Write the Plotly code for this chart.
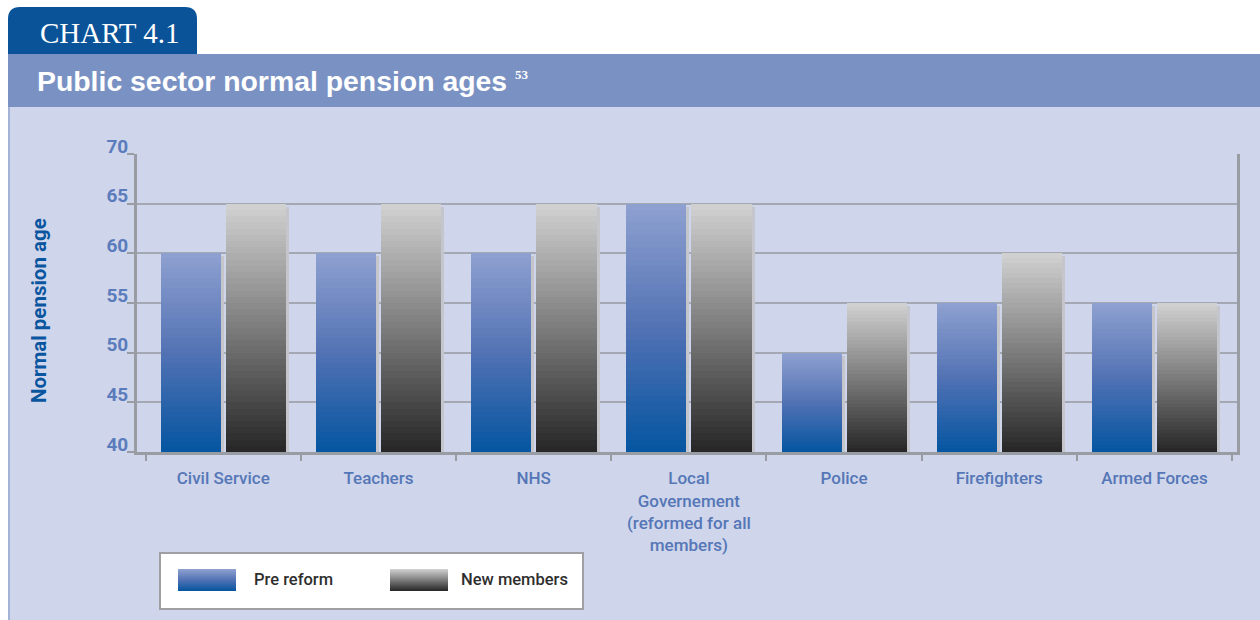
import plotly.graph_objects as go

# ---------------- data ----------------
categories = ["Civil Service", "Teachers", "NHS",
              "Local<br>Governement<br>(reformed for all<br>members)",
              "Police", "Firefighters", "Armed Forces"]
pre_reform = [60, 60, 60, 65, 50, 55, 55]
new_members = [65, 65, 65, 65, 55, 60, 55]
y_ticks = [40, 45, 50, 55, 60, 65, 70]
series_names = ["Pre reform", "New members"]

# ---------------- style ----------------
W, H = 1260, 620
L, R, T, B = 137, 1237, 154, 452    # plot area in pixels
BASE = 40
NARROW = "Roboto, Liberation Sans, Arial, sans-serif"
SANS = "Liberation Sans, Arial, Helvetica, sans-serif"
SERIF = "Liberation Serif, Times New Roman, DejaVu Serif, serif"

pre_stops = [(0.0, (4, 85, 161)), (0.5, (82, 114, 180)), (1.0, (143, 161, 208))]
new_stops = [(0.0, (38, 38, 38)), (0.5, (124, 124, 124)), (1.0, (210, 210, 210))]


def interp(stops, t):
    for (t0, c0), (t1, c1) in zip(stops[:-1], stops[1:]):
        if t <= t1:
            f = (t - t0) / (t1 - t0) if t1 > t0 else 0
            c = [round(a + (b - a) * f) for a, b in zip(c0, c1)]
            return "rgb(%d,%d,%d)" % tuple(c)
    return "rgb(%d,%d,%d)" % stops[-1][1]


def px(x):
    return (x - L) / (R - L)


def py(y):
    return (B - y) / (B - T)


fig = go.Figure()

N = 40
SH = 0.019   # shadow strip width (category units)
series = [
    (pre_reform, -0.402, 0.386, pre_stops),
    (new_members, 0.016, 0.39, new_stops),
]

# shadows
for vals, off, wd, _ in series:
    fig.add_trace(go.Bar(
        x=categories, y=[v - BASE - 0.3 for v in vals], base=[BASE] * len(vals),
        offset=off + wd, width=SH,
        marker=dict(color="#c4c6cb", line=dict(width=0)),
        showlegend=False, hoverinfo="skip"))

# gradient bars built from slices
for vals, off, wd, stops in series:
    for k in range(N):
        t = (k + 0.5) / N
        fig.add_trace(go.Bar(
            x=categories,
            y=[(v - BASE) / N for v in vals],
            base=[BASE + (v - BASE) * k / N for v in vals],
            offset=off, width=wd,
            marker=dict(color=interp(stops, t), line=dict(width=0)),
            showlegend=False, hoverinfo="skip"))

shapes = []
# panel background
shapes.append(dict(type="rect", xref="paper", yref="paper", layer="below",
                   x0=px(9), x1=px(W + 2), y0=py(107), y1=py(H + 2),
                   fillcolor="#cfd5ea", line=dict(width=0)))
shapes.append(dict(type="line", xref="paper", yref="paper", layer="below",
                   x0=px(9), x1=px(9), y0=py(107), y1=py(H + 2),
                   line=dict(color="#a3b3d8", width=2)))
# title band
shapes.append(dict(type="rect", xref="paper", yref="paper", layer="below",
                   x0=px(8), x1=px(W + 2), y0=py(54), y1=py(107),
                   fillcolor="#7a92c3", line=dict(width=0)))
# tab with rounded top corners
x0, x1, y0, y1 = px(8), px(197), py(54), py(7)
rx, ry = 12 / (R - L), 12 / (B - T)
path = (f"M {x0},{y0} L {x0},{y1 - ry} Q {x0},{y1} {x0 + rx},{y1} "
        f"L {x1 - rx},{y1} Q {x1},{y1} {x1},{y1 - ry} L {x1},{y0} Z")
shapes.append(dict(type="path", xref="paper", yref="paper", layer="below",
                   path=path, fillcolor="#0b5399", line=dict(width=0)))

# legend box
shapes.append(dict(type="rect", xref="paper", yref="paper",
                   x0=px(160), x1=px(583), y0=py(553), y1=py(609),
                   fillcolor="white", line=dict(color="#a0a0a4", width=2)))
NS = 22
for (sx0, sx1), stops in [((178, 236), pre_stops), ((390, 448), new_stops)]:
    for k in range(NS):
        ya = 591 - 22 * k / NS
        yb = 591 - 22 * (k + 1) / NS
        shapes.append(dict(type="rect", xref="paper", yref="paper",
                           x0=px(sx0), x1=px(sx1), y0=py(ya), y1=py(yb),
                           fillcolor=interp(stops, (k + 0.5) / NS),
                           line=dict(width=0)))

annotations = [
    dict(text="CHART 4.1", xref="paper", yref="paper", x=px(38), y=py(33),
         xanchor="left", yanchor="middle", showarrow=False,
         font=dict(family=SERIF, size=29, color="white")),
    dict(text="Public sector normal pension ages "
              "<sup><span style='font-family:Liberation Serif;font-size:13px'>53</span></sup>",
         xref="paper", yref="paper",
         x=px(35), y=py(81), xanchor="left", yanchor="middle", showarrow=False,
         font=dict(family=SANS, size=28.4, color="white", weight="bold")),
    dict(text="Normal pension age", xref="paper", yref="paper", x=px(39), y=py(311),
         xanchor="center", yanchor="middle", textangle=-90, showarrow=False,
         font=dict(family=NARROW, size=20.5, color="#0a55a0", weight="bold")),
    dict(text=series_names[0], xref="paper", yref="paper", x=px(252), y=py(579),
         xanchor="left", yanchor="middle", showarrow=False,
         font=dict(family=NARROW, size=16.5, color="#2e2e2e", weight=500)),
    dict(text=series_names[1], xref="paper", yref="paper", x=px(459), y=py(579),
         xanchor="left", yanchor="middle", showarrow=False,
         font=dict(family=NARROW, size=16.5, color="#2e2e2e", weight=500)),
]

fig.update_layout(
    width=W, height=H,
    margin=dict(l=L, r=W - R, t=T, b=H - B, pad=0),
    paper_bgcolor="white", plot_bgcolor="#cfd5ea",
    barmode="overlay", bargap=0,
    showlegend=False,
    shapes=shapes, annotations=annotations,
    xaxis=dict(
        type="category", categoryorder="array", categoryarray=categories,
        range=[-0.556, 6.532],
        tickson="boundaries", ticks="outside", ticklen=6, tickwidth=2, tickcolor="#9a9ca3",
        showline=True, linecolor="#9a9ca3", linewidth=3,
        showgrid=False, ticklabelstandoff=9, tickangle=0, automargin=False,
        tickfont=dict(family=NARROW, size=17, color="#5577b7", weight=500),
    ),
    yaxis=dict(
        range=[40, 70], tickvals=y_ticks, ticks="outside", ticklen=7, tickwidth=2,
        tickcolor="#9a9ca3", showline=True, linecolor="#9a9ca3", linewidth=3, mirror=True,
        showgrid=True, gridcolor="#a4a8b2", gridwidth=2, zeroline=False,
        ticklabelshift=-8, ticklabelstandoff=-5, automargin=False,
        tickfont=dict(family=NARROW, size=19, color="#5b7cbc", weight="bold"),
    ),
)

fig.write_html("out.html", config={"displayModeBar": False},
               post_script="document.body.style.margin='0';"
                           "document.body.style.overflow='hidden';")
